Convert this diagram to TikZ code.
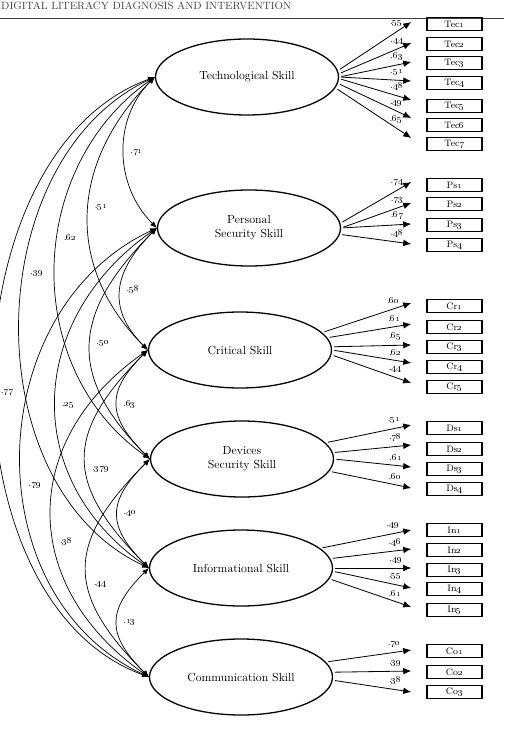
\documentclass[tikz,border=0pt]{standalone}
\usetikzlibrary{arrows.meta,shapes.geometric}
\definecolor{gris}{HTML}{404040}
\newcommand{\osn}[1]{\oldstylenums{#1}}
\tikzset{
  latente/.style={ellipse, draw, line width=1.1pt, minimum width=5.49cm, minimum height=2.28cm, align=center},
  indicador/.style={rectangle, draw, line width=1.3pt, minimum width=1.65cm, minimum height=0.39cm, inner sep=0pt, font=\footnotesize},
  carga/.style={-{Latex[length=2.4mm,width=2mm]}, line width=0.7pt, shorten <=2pt},
  covar/.style={{Latex[length=2mm,width=1.6mm]}-{Latex[length=2mm,width=1.6mm]}, line width=0.6pt},
  peso/.style={font=\footnotesize, inner sep=1pt}
}

\begin{document}
\begin{tikzpicture}[x=0.03cm, y=0.03cm]
  \useasboundingbox (0,0) rectangle (504,-736);
  \clip (0,0) rectangle (504,-736);
  \node[anchor=base west, inner sep=0pt, font=\small, text=gris] (cabecera) at (1,-10) {DIGITAL LITERACY DIAGNOSIS AND INTERVENTION};
  \draw[gris, line width=0.8pt] (0,-18) -- (504,-18);

  \node[latente] (tecno) at (247,-77) {Technological Skill};
  \node[latente] (perso) at (249,-228) {Personal\\Security Skill};
  \node[latente] (criti) at (240,-350) {Critical Skill};
  \node[latente] (dispo) at (242,-459) {Devices\\Security Skill};
  \node[latente] (infor) at (241,-568) {Informational Skill};
  \node[latente] (comun) at (241,-677) {Communication Skill};

  \foreach \i/\y/\a/\d/\r in {1/24/4.4/2/55, 2/44/2.5/1/44, 3/63/0.6/1/63, 4/83/-0.6/2/51,
                              5/106/-1.9/6/48, 6/125/-4.4/7/49, 7/144/-7/6/65}{
    \node[indicador] (tec\i) at (454.5,-\y) {Tec\osn{\i}};
    \draw[carga] (tecno.\a) -- ([shift={(-15,\d)}]tec\i.west) node[peso, pos=.8, above=3pt] {.\osn{\r}};
  }
  \foreach \i/\y/\a/\d/\r in {1/185/3.7/3/74, 2/204/0/1/73, 3/225/-0.6/1/67, 4/245/-4.4/1/48}{
    \node[indicador] (ps\i) at (454.5,-\y) {Ps\osn{\i}};
    \draw[carga] (perso.\a) -- ([shift={(-15,\d)}]ps\i.west) node[peso, pos=.8, above=3pt] {.\osn{\r}};
  }
  \foreach \i/\y/\a/\d/\r in {1/306/12.4/3/60, 2/327/8.5/3/61, 3/347/2.5/2/65, 4/367/0/4/62, 5/387/-3.1/4/44}{
    \node[indicador] (cr\i) at (454.5,-\y) {Cr\osn{\i}};
    \draw[carga] (criti.\a) -- ([shift={(-15,\d)}]cr\i.west) node[peso, pos=.8, above=3pt] {.\osn{\r}};
  }
  \foreach \i/\y/\a/\d/\r in {1/428/11.6/3/51, 2/449/4.4/4/78, 3/469/0/2/61, 4/489/-8.5/1/60}{
    \node[indicador] (ds\i) at (454.5,-\y) {Ds\osn{\i}};
    \draw[carga] (dispo.\a) -- ([shift={(-15,\d)}]ds\i.west) node[peso, pos=.8, above=3pt] {.\osn{\r}};
  }
  \foreach \i/\y/\a/\d/\r in {1/530/14.2/0/49, 2/550/6.4/1/46, 3/570/0/2/49, 4/589/-2.5/1/55, 5/610/-7.8/3/61}{
    \node[indicador] (in\i) at (454.5,-\y) {In\osn{\i}};
    \draw[carga] (infor.\a) -- ([shift={(-15,\d)}]in\i.west) node[peso, pos=.8, above=3pt] {.\osn{\r}};
  }
  \foreach \i/\y/\a/\d/\r in {1/651/10/1/70, 2/672/3.7/1/39, 3/692/-2.5/0/38}{
    \node[indicador] (co\i) at (454.5,-\y) {Co\osn{\i}};
    \draw[carga] (comun.\a) -- ([shift={(-15,\d)}]co\i.west) node[peso, pos=.8, above=3pt] {.\osn{\r}};
  }

  \foreach \a/\b/\o/\l/\p/\r in {tecno/perso/225/60/.5/71, tecno/criti/225/119/.48/51,
      tecno/dispo/215/158/.43/62, tecno/infor/205/194/.42/39, tecno/comun/200/223/.52/77,
      perso/criti/225/60/.5/58, perso/dispo/225/119/.5/50, perso/infor/215/158/.52/25,
      perso/comun/205/194/.56/79, criti/dispo/225/60/.5/63, criti/infor/225/119/.55/379,
      criti/comun/215/158/.58/38, dispo/infor/225/60/.5/40, dispo/comun/225/119/.58/44,
      infor/comun/225/60/.5/13}
    \draw[covar] (\a.west) .. controls +(\o:\l) and +(-\o:\l) .. (\b.west)
      node[peso, pos=\p, right=4pt] {.\osn{\r}};
\end{tikzpicture}
\end{document}
